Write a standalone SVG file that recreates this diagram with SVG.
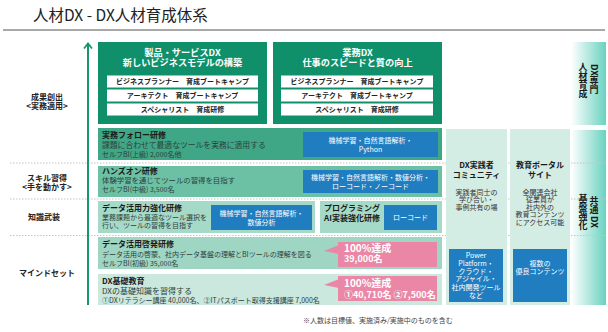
<svg xmlns="http://www.w3.org/2000/svg" width="608" height="332" viewBox="0 0 608 332">
<defs>
<linearGradient id="barGrad" x1="0" y1="0" x2="1" y2="0">
<stop offset="0" stop-color="#ffffff"/>
<stop offset="1" stop-color="#6ad2c0"/>
</linearGradient>
<style>
text{font-family:"Noto Sans CJK JP","Noto Sans",sans-serif;}
.title{font-size:15.5px;fill:#222;}
.gbox{fill:#10906a;}
.ghead{font-size:9.2px;font-weight:bold;fill:#fff;text-anchor:middle;}
.wbox{fill:#fff;}
.wtxt{font-size:7px;font-weight:bold;fill:#222;text-anchor:middle;}
.lbl{font-size:8px;font-weight:bold;fill:#222;text-anchor:middle;}
.rt{font-size:8px;font-weight:bold;fill:#1a1a1a;}
.rb{font-size:7.6px;fill:#2e403b;}
.rs{font-size:7px;fill:#2e403b;}
.blue{fill:#1f7dc0;}
.btxt{font-size:7px;fill:#fff;text-anchor:middle;}
.pink{fill:#ea87a6;}
.pt1{font-size:10px;font-weight:bold;fill:#fff;}
.pt2{font-size:9px;font-weight:bold;fill:#fff;}
.col{fill:#d3ece4;}
.chead{font-size:8px;font-weight:bold;fill:#1a1a1a;text-anchor:middle;}
.cbody{font-size:7px;fill:#333;text-anchor:middle;}
.vt{font-size:9px;font-weight:bold;fill:#1a1a1a;writing-mode:vertical-rl;}
.sep{stroke:#c4c4c4;stroke-width:1;stroke-dasharray:1.5 1.5;}
</style>
</defs>
<rect x="0" y="0" width="608" height="332" fill="#fff"/>

<g id="header">
<text class="title" x="33" y="21">人材DX - DX人材育成体系</text>
<line x1="3" y1="30" x2="605" y2="30" stroke="#a9a9a9" stroke-width="2"/>
</g>

<g id="separators">
<line class="sep" x1="10" y1="163" x2="606" y2="163"/>
<line class="sep" x1="10" y1="199" x2="606" y2="199"/>
<line class="sep" x1="10" y1="235.5" x2="606" y2="235.5"/>
</g>

<g id="connectors">
<line x1="88" y1="44" x2="88" y2="305" stroke="#17956f" stroke-width="2"/>
<polyline points="84,48.5 88,43.5 92,48.5" fill="none" stroke="#17956f" stroke-width="1.8"/>
</g>

<g id="labels">
<text class="lbl" x="47" y="100">成果創出</text>
<text class="lbl" x="47" y="109">&lt;実務適用&gt;</text>
<text class="lbl" x="47" y="181">スキル習得</text>
<text class="lbl" x="47" y="190">&lt;手を動かす&gt;</text>
<text class="lbl" x="44" y="220">知識武装</text>
<text class="lbl" x="47" y="276">マインドセット</text>
</g>

<g id="product-dx">
<rect class="gbox" x="98" y="42" width="169" height="82"/>
<text class="ghead" x="182.5" y="55.5">製品・サービスDX</text>
<text class="ghead" x="182.5" y="66">新しいビジネスモデルの構築</text>
<rect class="wbox" x="107" y="75.5" width="151" height="12"/>
<text class="wtxt" x="182.5" y="84">ビジネスプランナー　育成ブートキャンプ</text>
<rect class="wbox" x="107" y="89.5" width="151" height="12"/>
<text class="wtxt" x="182.5" y="98">アーキテクト　育成ブートキャンプ</text>
<rect class="wbox" x="107" y="103.5" width="151" height="12"/>
<text class="wtxt" x="182.5" y="112">スペシャリスト　育成研修</text>
</g>

<g id="business-dx">
<rect class="gbox" x="273" y="42" width="169" height="82"/>
<text class="ghead" x="357.5" y="55.5">業務DX</text>
<text class="ghead" x="357.5" y="66">仕事のスピードと質の向上</text>
<rect class="wbox" x="281" y="75.5" width="152" height="12"/>
<text class="wtxt" x="357" y="84">ビジネスプランナー　育成ブートキャンプ</text>
<rect class="wbox" x="281" y="89.5" width="152" height="12"/>
<text class="wtxt" x="357" y="98">アーキテクト　育成ブートキャンプ</text>
<rect class="wbox" x="281" y="103.5" width="152" height="12"/>
<text class="wtxt" x="357" y="112">スペシャリスト　育成研修</text>
</g>

<g id="follow-training">
<rect x="98" y="128" width="344" height="32" fill="#3fa686"/>
<text class="rt" x="102" y="138">実務フォロー研修</text>
<text class="rb" x="102" y="148" style="font-size:7.8px">課題に合わせて最適なツールを実務に適用する</text>
<text class="rs" x="102" y="156.5">セルフBI(上級) 2,000名他</text>
<rect class="blue" x="303" y="132" width="135" height="25"/>
<text class="btxt" x="370.5" y="142.5">機械学習・自然言語解析・</text>
<text class="btxt" x="370.5" y="152">Python</text>
</g>

<g id="handson-training">
<rect x="98" y="166" width="344" height="31" fill="#6cc1a5"/>
<text class="rt" x="102" y="174">ハンズオン研修</text>
<text class="rb" x="102" y="183" style="font-size:7.4px">体験学習を通じてツールの習得を目指す</text>
<text class="rs" x="102" y="192">セルフBI(中級) 3,500名</text>
<rect class="blue" x="303" y="170" width="135" height="23"/>
<text class="btxt" x="370.5" y="180">機械学習・自然言語解析・数値分析・</text>
<text class="btxt" x="370.5" y="189">ローコード・ノーコード</text>
</g>

<g id="data-training">
<rect x="98" y="201" width="217" height="32" fill="#a6dac8"/>
<text class="rt" x="102" y="211">データ活用力強化研修</text>
<text class="rs" x="102" y="220">業務課題から最適なツール選択を</text>
<text class="rs" x="102" y="228">行い、ツールの習得を目指す</text>
<rect class="blue" x="211" y="205" width="101" height="25"/>
<text class="btxt" x="261.5" y="215.5">機械学習・自然言語解析・</text>
<text class="btxt" x="261.5" y="224.5">数値分析</text>
</g>

<g id="ai-training">
<rect x="320" y="201" width="122" height="32" fill="#a6dac8"/>
<text class="rt" x="352" y="211" text-anchor="middle">プログラミング</text>
<text class="rt" x="352" y="221" text-anchor="middle">AI実装強化研修</text>
<rect class="blue" x="384" y="205" width="53" height="25"/>
<text class="btxt" x="410.5" y="220">ローコード</text>
</g>

<g id="awareness-training">
<rect x="98" y="237" width="344" height="32" fill="#9fd5c3"/>
<text class="rt" x="102" y="247">データ活用啓発研修</text>
<text class="rb" x="102" y="257" style="font-size:7px">データ活用の啓蒙、社内データ基盤の理解とBIツールの理解を図る</text>
<text class="rs" x="102" y="265.5">セルフBI(初級) 35,000名</text>
<rect class="pink" x="338" y="242" width="99" height="25"/>
<polygon class="pink" points="339,245 324,251 339,254"/>
<text class="pt1" x="344" y="252">100%達成</text>
<text class="pt2" x="344" y="262">39,000名</text>
</g>

<g id="basic-education">
<rect x="98" y="274" width="344" height="31" fill="#cae8de"/>
<text class="rt" x="102" y="284">DX基礎教育</text>
<text class="rb" x="102" y="294" style="font-size:8px">DXの基礎知識を習得する</text>
<text class="rs" x="102" y="302.5">①DXリテラシー講座 40,000名、②ITパスポート取得支援講座 7,000名</text>
<rect class="pink" x="338" y="276" width="99" height="25"/>
<polygon class="pink" points="339,279 324,285 339,288"/>
<text class="pt1" x="344" y="286.5">100%達成</text>
<text class="pt2" x="344" y="297.5">①40,710名 ②7,500名</text>
</g>

<g id="community">
<rect class="col" x="446" y="129" width="61" height="176"/>
<text class="chead" x="476.5" y="168">DX実践者</text>
<text class="chead" x="476.5" y="177.5">コミュニティ</text>
<text class="cbody" x="476.5" y="194.5">実践者同士の</text>
<text class="cbody" x="476.5" y="202">学び合い・</text>
<text class="cbody" x="476.5" y="209.5">事例共有の場</text>
<rect class="blue" x="449" y="249" width="54" height="53"/>
<text class="btxt" x="476" y="257.5">Power</text>
<text class="btxt" x="476" y="265.5">Platform・</text>
<text class="btxt" x="476" y="273.5">クラウド・</text>
<text class="btxt" x="476" y="281">アジャイル・</text>
<text class="btxt" x="476" y="289.5">社内開発ツール</text>
<text class="btxt" x="476" y="297.5">など</text>
</g>

<g id="portal">
<rect class="col" x="510" y="129" width="60" height="176"/>
<text class="chead" x="540" y="168">教育ポータル</text>
<text class="chead" x="540" y="177.5">サイト</text>
<text class="cbody" x="540" y="194.5">全関連会社</text>
<text class="cbody" x="540" y="202">従業員が</text>
<text class="cbody" x="540" y="209.5">社内外の</text>
<text class="cbody" x="540" y="217">教育コンテンツ</text>
<text class="cbody" x="540" y="224.5">にアクセス可能</text>
<rect class="blue" x="513" y="249" width="54" height="53"/>
<text class="btxt" x="540" y="265.5">複数の</text>
<text class="btxt" x="540" y="274">優良コンテンツ</text>
</g>

<g id="bar-specialist">
<rect x="571" y="42" width="35" height="83" fill="url(#barGrad)"/>
<text class="vt" x="594" y="64">DX専門</text>
<text class="vt" x="583" y="62">人材育成</text>
</g>

<g id="bar-common">
<rect x="571" y="130" width="35" height="175" fill="url(#barGrad)"/>
<line class="sep" x1="571" y1="163" x2="606" y2="163"/>
<line class="sep" x1="571" y1="199" x2="606" y2="199"/>
<line class="sep" x1="571" y1="235.5" x2="606" y2="235.5"/>
<text class="vt" x="594" y="196">共通 DX</text>
<text class="vt" x="583" y="194">基盤強化</text>
</g>

<g id="footnote">
<text x="303" y="323" style="font-size:7px;fill:#444;">※人数は目標値、実施済み/実施中のものを含む</text>
</g>
</svg>
